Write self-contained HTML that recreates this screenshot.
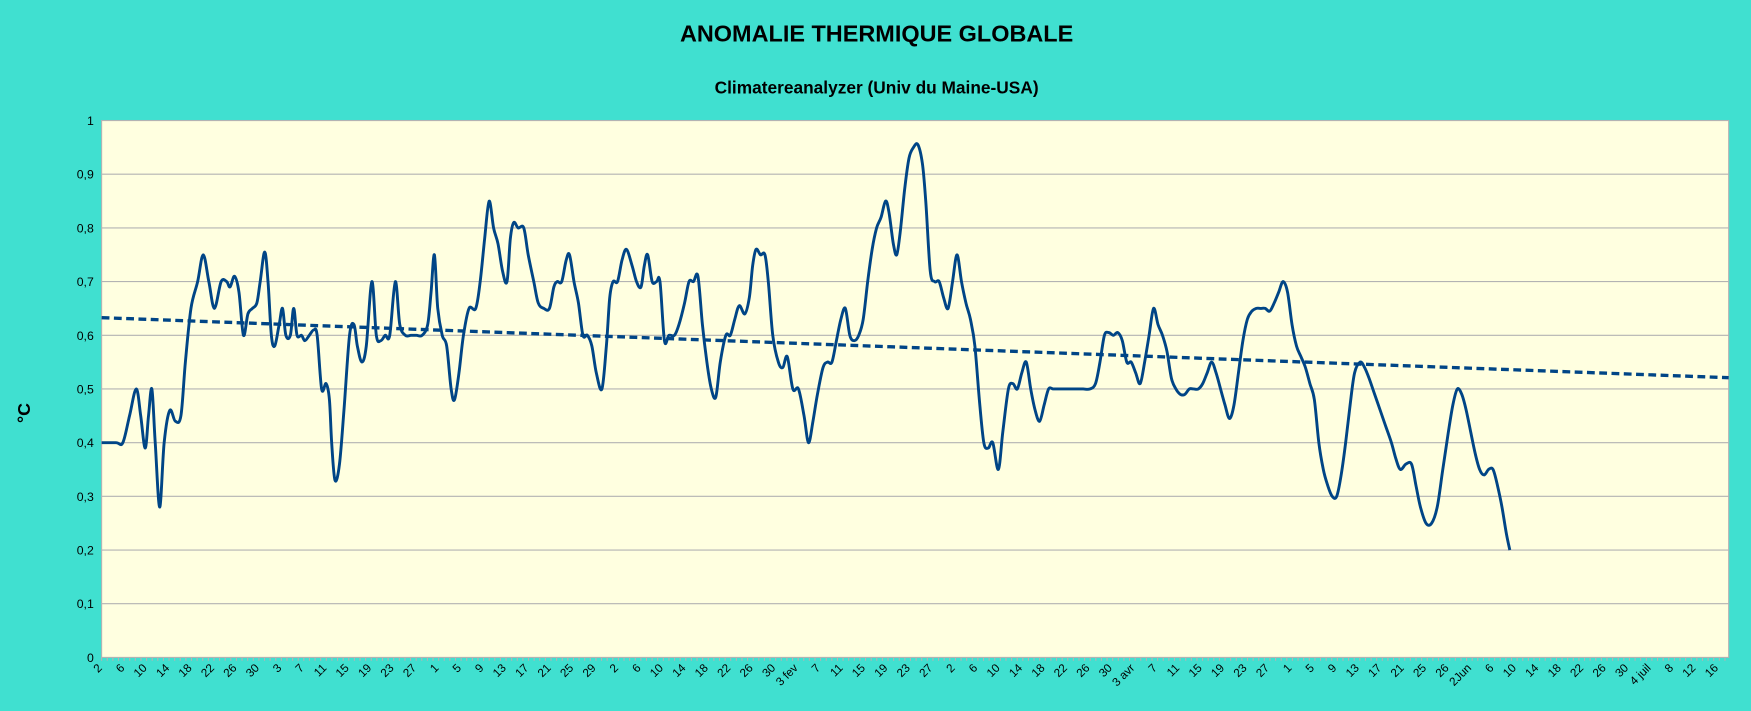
<!DOCTYPE html>
<html><head><meta charset="utf-8"><style>
html,body{margin:0;padding:0;background:#40E0D0;}
svg{display:block;}
</style></head><body>
<svg id="s" width="1751" height="711" viewBox="0 0 1568 637" preserveAspectRatio="none" xmlns="http://www.w3.org/2000/svg">
<rect width="1568" height="637" fill="#40E0D0"/>
<text x="785" y="37" text-anchor="middle" font-family="Liberation Sans, sans-serif" font-weight="bold" font-size="21" fill="#000">ANOMALIE THERMIQUE GLOBALE</text>
<text x="785" y="84" text-anchor="middle" font-family="Liberation Sans, sans-serif" font-weight="bold" font-size="15.5" fill="#000">Climatereanalyzer (Univ du Maine-USA)</text>
<text transform="translate(27,370) rotate(-90)" text-anchor="middle" font-family="Liberation Sans, sans-serif" font-weight="bold" font-size="16" fill="#000">°C</text>
<rect x="91" y="108" width="1457" height="481" fill="#FFFFE0" stroke="#b3b3b3" stroke-width="1"/>
<g id="grid"></g>
<g id="ticks"></g>
<line x1="91" y1="284.6" x2="1548" y2="338.4" stroke="#004586" stroke-width="3" stroke-dasharray="7,4"/>
<path id="curve" fill="none" stroke="#004586" stroke-width="2.6" stroke-linejoin="round"/>
</svg>
<script>
var NS="http://www.w3.org/2000/svg";
function el(t,a,p,txt){var e=document.createElementNS(NS,t);for(var k in a)e.setAttribute(k,a[k]);if(txt!=null)e.textContent=txt;p.appendChild(e);return e;}
var g=document.getElementById('grid');
function Y(v){return 589-v*481;}
for(var i=0;i<=10;i++){var y=Y(i/10);
 if(i>0&&i<10)el('line',{x1:91,x2:1548,y1:y,y2:y,stroke:'#b3b3b3','stroke-width':1},g);
 el('text',{x:84,y:y+4,'text-anchor':'end','font-family':'Liberation Sans, sans-serif','font-size':11,fill:'#000'},g,i==0?'0':i==10?'1':'0,'+i);}
var t=document.getElementById('ticks');
for(var x=91;x<=1548;x+=5.03)el('line',{x1:x,x2:x,y1:589,y2:592,stroke:'#b3b3b3','stroke-width':1},t);
var labs="2,6,10,14,18,22,26,30,3,7,11,15,19,23,27,1,5,9,13,17,21,25,29,2,6,10,14,18,22,26,30,3 fev,7,11,15,19,23,27,2,6,10,14,18,22,26,30,3 avr,7,11,15,19,23,27,1,5,9,13,17,21,25,26,2Jun,6,10,14,18,22,26,30,4 juil,8,12,16".split(',');
for(var i=0;i<labs.length;i++){var lx=92+i*20.1;
 el('text',{transform:'translate('+lx+',599) rotate(-45)','text-anchor':'end','font-family':'Liberation Sans, sans-serif','font-size':10.5,fill:'#000'},t,labs[i]);}
var d="91 .40,104 .40,110 .40,116 .45,122 .50,126 .45,130 .39,133 .45,136 .50,139 .40,143 .28,147 .40,152 .46,157 .44,162 .45,166 .55,171 .65,177 .70,182 .75,187 .70,192 .65,198 .70,203 .70,206 .69,210 .71,214 .68,218 .60,222 .64,226 .65,230 .66,233 .70,237 .755,240 .70,243 .60,246 .58,250 .62,253 .65,256 .60,260 .60,263 .65,266 .60,270 .60,273 .59,277 .60,281 .61,284 .60,288 .50,292 .51,295 .48,297 .40,300 .33,304 .36,308 .46,313 .60,317 .62,320 .58,324 .55,328 .58,333 .70,337 .60,341 .59,345 .60,349 .60,354 .70,358 .62,363 .60,368 .60,373 .60,378 .60,383 .62,386 .68,389 .75,392 .65,396 .60,400 .58,404 .50,407 .48,411 .53,415 .60,420 .65,426 .65,430 .70,434 .78,438 .85,442 .80,446 .77,450 .72,454 .70,457 .78,460 .81,464 .80,469 .80,473 .75,478 .70,482 .66,487 .65,492 .65,496 .69,499 .70,503 .70,507 .74,510 .75,514 .70,518 .66,522 .60,526 .60,530 .58,534 .53,539 .50,543 .58,546 .67,549 .70,553 .70,557 .74,561 .76,566 .73,570 .70,574 .69,577 .73,580 .75,584 .70,588 .70,591 .70,595 .59,599 .60,604 .60,608 .62,613 .66,617 .70,621 .70,625 .71,629 .62,633 .55,637 .50,641 .485,645 .55,650 .60,654 .60,658 .63,662 .655,667 .64,671 .67,674 .73,677 .76,681 .75,685 .75,688 .70,692 .60,697 .55,701 .54,705 .56,710 .50,715 .50,720 .45,724 .40,728 .44,732 .49,737 .54,741 .55,745 .55,749 .59,753 .63,757 .65,761 .60,765 .59,769 .60,773 .63,777 .70,781 .76,785 .80,789 .82,793 .85,796 .83,800 .77,803 .75,806 .79,810 .87,814 .93,818 .95,822 .955,826 .92,829 .85,833 .72,837 .70,841 .70,845 .67,849 .65,853 .70,857 .75,861 .70,865 .66,869 .63,873 .58,877 .48,881 .40,885 .39,889 .40,894 .35,898 .42,903 .50,907 .51,911 .50,915 .53,919 .55,923 .50,927 .46,931 .44,935 .47,939 .50,943 .50,947 .50,951 .50,955 .50,960 .50,965 .50,970 .50,976 .50,981 .51,985 .55,989 .60,993 .605,997 .60,1001 .605,1005 .59,1009 .55,1013 .55,1017 .53,1021 .51,1025 .55,1029 .60,1033 .65,1037 .62,1041 .60,1045 .57,1049 .52,1053 .50,1057 .49,1061 .49,1065 .50,1069 .50,1073 .50,1077 .51,1081 .53,1085 .55,1089 .53,1093 .50,1097 .47,1101 .445,1105 .47,1109 .53,1113 .59,1117 .63,1121 .645,1125 .65,1129 .65,1133 .65,1137 .645,1141 .66,1145 .68,1149 .70,1153 .68,1157 .62,1161 .58,1165 .56,1169 .54,1173 .51,1177 .48,1181 .40,1185 .35,1189 .32,1193 .30,1197 .30,1201 .34,1205 .40,1209 .47,1213 .53,1218 .55,1222 .54,1226 .52,1231 .49,1236 .46,1241 .43,1246 .40,1250 .37,1254 .35,1259 .36,1264 .36,1268 .32,1272 .28,1277 .25,1282 .25,1287 .28,1292 .35,1297 .42,1301 .47,1305 .50,1309 .49,1313 .46,1317 .42,1321 .38,1325 .35,1329 .34,1333 .35,1337 .35,1341 .32,1345 .28,1349 .23,1352 .20";
var P=d.split(',').map(function(s){var a=s.split(' ');return [+a[0],Y(+a[1])];});
var path='M'+P[0][0]+' '+P[0][1];
for(var i=0;i<P.length-1;i++){var p0=P[Math.max(0,i-1)],p1=P[i],p2=P[i+1],p3=P[Math.min(P.length-1,i+2)];
 var c1x=p1[0]+(p2[0]-p0[0])/6,c1y=p1[1]+(p2[1]-p0[1])/6,c2x=p2[0]-(p3[0]-p1[0])/6,c2y=p2[1]-(p3[1]-p1[1])/6;
 path+=' C'+c1x.toFixed(1)+' '+c1y.toFixed(1)+' '+c2x.toFixed(1)+' '+c2y.toFixed(1)+' '+p2[0]+' '+p2[1].toFixed(1);}
document.getElementById('curve').setAttribute('d',path);
</script>
</body></html>
